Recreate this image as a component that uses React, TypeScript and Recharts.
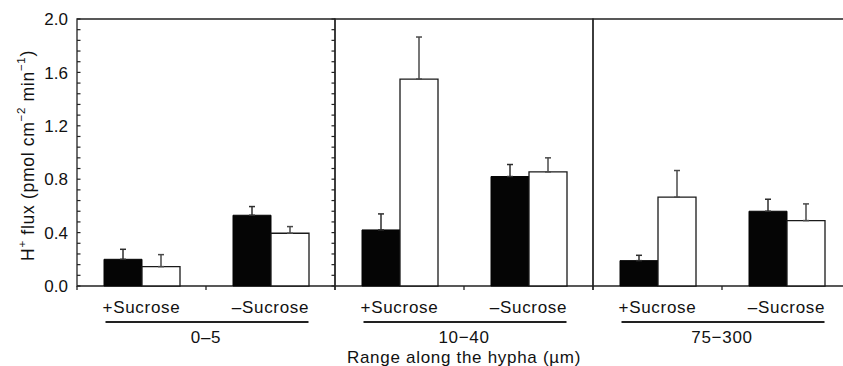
import React from 'react';
import { BarChart, Bar, XAxis, YAxis, ErrorBar, ReferenceArea, Label } from 'recharts';

// ---- data ----
const groups = ['+Sucrose', '–Sucrose'];
const panels = ['0–5', '10−40', '75−300'];
const xTitle = 'Range along the hypha (µm)';

// filled (black) bars, per panel: [+Sucrose, –Sucrose]
const filled0 = [0.2, 0.53];
const filled1 = [0.42, 0.82];
const filled2 = [0.19, 0.56];
const filledErr0 = [0.075, 0.065];
const filledErr1 = [0.12, 0.09];
const filledErr2 = [0.04, 0.09];

// open (white) bars, per panel: [+Sucrose, –Sucrose]
const open0 = [0.145, 0.395];
const open1 = [1.55, 0.855];
const open2 = [0.665, 0.49];
const openErr0 = [0.09, 0.05];
const openErr1 = [0.315, 0.105];
const openErr2 = [0.2, 0.125];

const filled = [filled0, filled1, filled2];
const filledErr = [filledErr0, filledErr1, filledErr2];
const open = [open0, open1, open2];
const openErr = [openErr0, openErr1, openErr2];

const yTicks = [
  0, 0.08, 0.16, 0.24, 0.32, 0.4, 0.48, 0.56, 0.64, 0.72, 0.8, 0.88, 0.96,
  1.04, 1.12, 1.2, 1.28, 1.36, 1.44, 1.52, 1.6, 1.68, 1.76, 1.84, 1.92, 2.0,
];
const yMajor = [0, 0.4, 0.8, 1.2, 1.6, 2.0];

// ---- style ----
const FONT = '"Liberation Sans", Arial, Helvetica, sans-serif';
const TEXT = '#111';
const LINE = '#222';
const TICK = '#222';
const BAR = 38;
const LS = 0.7;
const PLOT_W = 258;
const TICK_LEN = 3.5;
const Y_MARGIN = 9;

const isMajor = (v: number) => yMajor.some((m) => Math.abs(m - v) < 1e-6);

const GroupTick = (props: any) => {
  const { x, y, payload, index } = props;
  const off = payload && typeof payload.offset === 'number' ? payload.offset : 64.5;
  return (
    <g>
      {index === 0 && <line x1={x - off} y1={y} x2={x - off} y2={y + 4} stroke={TICK} strokeWidth={1.3} />}
      <line x1={x + off} y1={y} x2={x + off} y2={y + 4} stroke={TICK} strokeWidth={1.3} />
      <text x={x} y={y + 27} textAnchor="middle" fontSize={17} fontFamily={FONT} letterSpacing={LS} fill={TEXT}>
        {payload.value}
      </text>
      {index === 0 && (
        <line x1={x - BAR + 2} y1={y + 36} x2={x + 2 * off + BAR} y2={y + 36} stroke={LINE} strokeWidth={1.8} />
      )}
    </g>
  );
};

const makeYTick = (showLabel: boolean) => (props: any) => {
  const { x, y, payload } = props;
  const x0 = x + Y_MARGIN; // left edge of the plot frame
  const v = payload.value as number;
  return (
    <g>
      <line x1={x0} y1={y} x2={x0 + TICK_LEN} y2={y} stroke={TICK} strokeWidth={1.2} />
      <line x1={x0 + PLOT_W - TICK_LEN} y1={y} x2={x0 + PLOT_W} y2={y} stroke={TICK} strokeWidth={1.2} />
      {showLabel && isMajor(v) && (
        <text x={x} y={y} dy="0.36em" textAnchor="end" fontSize={17} fontFamily={FONT} fill={TEXT}>
          {v.toFixed(1)}
        </text>
      )}
    </g>
  );
};

const makePanelLabel = (idx: number) => (props: any) => {
  const vb = props.viewBox || {};
  const cx = vb.x + vb.width / 2;
  return (
    <g>
      <text x={cx} y={vb.y + 57} textAnchor="middle" fontSize={17} fontFamily={FONT} letterSpacing={LS} fill={TEXT}>
        {panels[idx]}
      </text>
      {idx === 1 && (
        <text x={cx} y={vb.y + 77} textAnchor="middle" fontSize={17} fontFamily={FONT} letterSpacing={LS} fill={TEXT}>
          {xTitle}
        </text>
      )}
    </g>
  );
};

const YTitle = (props: any) => {
  const vb = props.viewBox || {};
  const cx = vb.x + 28;
  const cy = vb.y + vb.height / 2 + 3;
  return (
    <text
      x={cx}
      y={cy}
      transform={`rotate(-90, ${cx}, ${cy})`}
      textAnchor="middle"
      dominantBaseline="central"
      fontSize={17.5}
      fontFamily={FONT}
      letterSpacing={0.7}
      fill={TEXT}
    >
      <tspan>H</tspan>
      <tspan fontSize={11.5} dy="-0.55em">+</tspan>
      <tspan dy="0.35em"> flux (pmol cm</tspan>
      <tspan fontSize={11.5} dy="-0.55em">−2</tspan>
      <tspan dy="0.35em"> min</tspan>
      <tspan fontSize={11.5} dy="-0.55em">−1</tspan>
      <tspan dy="0.35em">)</tspan>
    </text>
  );
};

type PanelProps = { idx: number; left: number; width: number; marginLeft: number; yWidth: number; first: boolean };

const Panel = ({ idx, left, width, marginLeft, yWidth, first }: PanelProps) => {
  const data = groups.map((g, i) => ({
    group: g,
    filled: filled[idx][i],
    filledErr: [0, filledErr[idx][i]],
    open: open[idx][i],
    openErr: [0, openErr[idx][i]],
  }));
  const YTick = makeYTick(first);
  return (
    <div style={{ position: 'absolute', left, top: 0 }}>
      <BarChart
        width={width}
        height={366}
        data={data}
        margin={{ top: 19, right: 1, bottom: 0, left: marginLeft }}
        barGap={0}
        barSize={BAR}
      >
        <XAxis
          xAxisId="x"
          dataKey="group"
          type="category"
          height={80}
          interval={0}
          tickSize={0}
          tickMargin={0}
          tickLine={false}
          axisLine={false}
          tick={<GroupTick />}
        >
          <Label content={makePanelLabel(idx)} />
        </XAxis>
        <YAxis
          yAxisId="l"
          type="number"
          domain={[0, 2]}
          ticks={yTicks}
          interval={0}
          width={yWidth}
          tickSize={0}
          tickMargin={Y_MARGIN}
          axisLine={false}
          tickLine={false}
          tick={<YTick />}
        >
          {first && <Label content={YTitle} />}
        </YAxis>
        <ReferenceArea xAxisId="x" yAxisId="l" y1={0} y2={2} fill="none" stroke={LINE} strokeWidth={1.3} ifOverflow="visible" />
        <Bar xAxisId="x" yAxisId="l" dataKey="filled" fill="#050505" stroke="#050505" strokeWidth={1} isAnimationActive={false}>
          <ErrorBar dataKey="filledErr" width={3} stroke="#2e2e2e" strokeWidth={1.5} direction="y" />
        </Bar>
        <Bar xAxisId="x" yAxisId="l" dataKey="open" fill="#ffffff" stroke="#1a1a1a" strokeWidth={1.3} isAnimationActive={false}>
          <ErrorBar dataKey="openErr" width={3} stroke="#4a4a4a" strokeWidth={1.5} direction="y" />
        </Bar>
      </BarChart>
    </div>
  );
};

export default function App() {
  return (
    <div style={{ position: 'absolute', left: 0, top: 0, width: 843, height: 366, overflow: 'hidden', background: '#fff', fontFamily: FONT }}>
      <Panel idx={0} left={0} width={336} marginLeft={0} yWidth={77} first />
      <Panel idx={1} left={334} width={260} marginLeft={1} yWidth={0} first={false} />
      <Panel idx={2} left={592} width={260} marginLeft={1} yWidth={0} first={false} />
    </div>
  );
}
